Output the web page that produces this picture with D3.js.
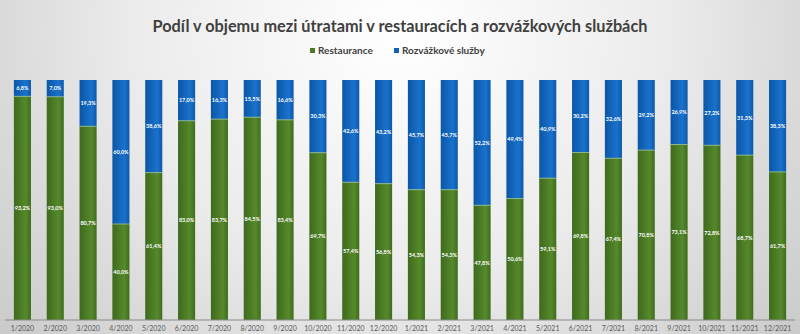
<!DOCTYPE html>
<html><head><meta charset="utf-8">
<script src="https://cdn.jsdelivr.net/npm/d3@7"></script>
<style>html,body{margin:0;padding:0;}svg{display:block;}</style>
</head><body>
<svg id="c" width="800" height="334"></svg>
<script>
const months = ["1/2020","2/2020","3/2020","4/2020","5/2020","6/2020","7/2020","8/2020","9/2020","10/2020","11/2020","12/2020",
"1/2021","2/2021","3/2021","4/2021","5/2021","6/2021","7/2021","8/2021","9/2021","10/2021","11/2021","12/2021"];
const restaurance = [93.2,93.0,80.7,40.0,61.4,83.0,83.7,84.5,83.4,69.7,57.4,56.8,54.3,54.3,47.8,50.6,59.1,69.8,67.4,70.8,73.1,72.8,68.7,61.7];
const rozvazka = [6.8,7.0,19.3,60.0,38.6,17.0,16.3,15.5,16.6,30.3,42.6,43.2,45.7,45.7,52.2,49.4,40.9,30.2,32.6,29.2,26.9,27.2,31.3,38.3];
const seriesNames = ["Restaurance","Rozvážkové služby"];
const title = "Podíl v objemu mezi útratami v restauracích a rozvážkových službách";

const W=800,H=334;
const svg=d3.select("#c");
const defs=svg.append("defs");
const bg=defs.append("radialGradient").attr("id","bg").attr("cx","50%").attr("cy","10%").attr("r","75%")
  .attr("gradientTransform","translate(0.5,0.1) scale(1,2.2) translate(-0.5,-0.1)");
bg.append("stop").attr("offset","0%").attr("stop-color","#ffffff");
bg.append("stop").attr("offset","45%").attr("stop-color","#ebebeb");
bg.append("stop").attr("offset","100%").attr("stop-color","#bfbfbf");
svg.append("rect").attr("width",W).attr("height",H).attr("fill","url(#bg)");

const gG=defs.append("linearGradient").attr("id","gG").attr("x1","0").attr("x2","1");
gG.append("stop").attr("offset","0%").attr("stop-color","#3e6a1d");
gG.append("stop").attr("offset","70%").attr("stop-color","#56892b");
gG.append("stop").attr("offset","100%").attr("stop-color","#3f6c1e");
const gB=defs.append("linearGradient").attr("id","gB").attr("x1","0").attr("x2","1");
gB.append("stop").attr("offset","0%").attr("stop-color","#0b56a6");
gB.append("stop").attr("offset","70%").attr("stop-color","#1a72cc");
gB.append("stop").attr("offset","100%").attr("stop-color","#0d58aa");

const x=d3.scaleBand().domain(months).range([6,794]).paddingInner(0.48).paddingOuter(0.24);
const y=d3.scaleLinear().domain([0,100]).range([320,80]);

const data=months.map((m,i)=>({m,r:restaurance[i],d:rozvazka[i]}));
const g=svg.append("g");
g.selectAll("rect.r").data(data).join("rect").attr("class","r")
  .attr("x",d=>x(d.m)).attr("width",x.bandwidth())
  .attr("y",d=>y(d.r)).attr("height",d=>y(0)-y(d.r)).attr("fill","url(#gG)");
g.selectAll("rect.d").data(data).join("rect").attr("class","d")
  .attr("x",d=>x(d.m)).attr("width",x.bandwidth())
  .attr("y",d=>y(d.r+d.d)).attr("height",d=>y(d.r)-y(d.r+d.d)).attr("fill","url(#gB)");
g.selectAll("line.sep").data(data).join("line").attr("class","sep")
  .attr("x1",d=>x(d.m)).attr("x2",d=>x(d.m)+x.bandwidth())
  .attr("y1",d=>y(d.r)).attr("y2",d=>y(d.r)).attr("stroke","#9cc28a").attr("stroke-width",0.8);

const fmt=v=>v.toFixed(1).replace(".",",")+"%";
g.selectAll("text.lr").data(data).join("text").attr("class","lr")
  .attr("x",d=>x(d.m)+x.bandwidth()/2).attr("y",d=>(y(0)+y(d.r))/2+2)
  .attr("text-anchor","middle").attr("fill","#fff").attr("font-size","5.5px").attr("font-weight","bold")
  .attr("font-family","Lato, sans-serif").text(d=>fmt(d.r));
g.selectAll("text.ld").data(data).join("text").attr("class","ld")
  .attr("x",d=>x(d.m)+x.bandwidth()/2).attr("y",d=>(y(d.r)+y(d.r+d.d))/2+2)
  .attr("text-anchor","middle").attr("fill","#fff").attr("font-size","5.5px").attr("font-weight","bold")
  .attr("font-family","Lato, sans-serif").text(d=>fmt(d.d));

const ax=svg.append("g").attr("transform","translate(0,320)")
  .call(d3.axisBottom(x).tickSize(0).tickPadding(6));
ax.select(".domain").attr("stroke","#8a8a8a").attr("d","M5,0H795");
ax.selectAll("text").attr("font-family","Lato, sans-serif").attr("font-size","7px").attr("fill","#595959");

svg.append("text").attr("x",400).attr("y",32).attr("text-anchor","middle")
  .attr("font-family","Lato, sans-serif").attr("font-weight","bold").attr("font-size","16.3px").attr("fill","#404040")
  .text(title);
const leg=svg.append("g").attr("font-family","Lato, sans-serif").attr("font-size","10px").attr("font-weight","bold").attr("fill","#404040");
const lx=[310,394],cols=["#4a7a25","#0f62b8"];
seriesNames.forEach((n,i)=>{
  leg.append("rect").attr("x",lx[i]).attr("y",48).attr("width",5).attr("height",5).attr("fill",cols[i]);
  leg.append("text").attr("x",lx[i]+8).attr("y",54).text(n);
});
</script>
</body></html>
